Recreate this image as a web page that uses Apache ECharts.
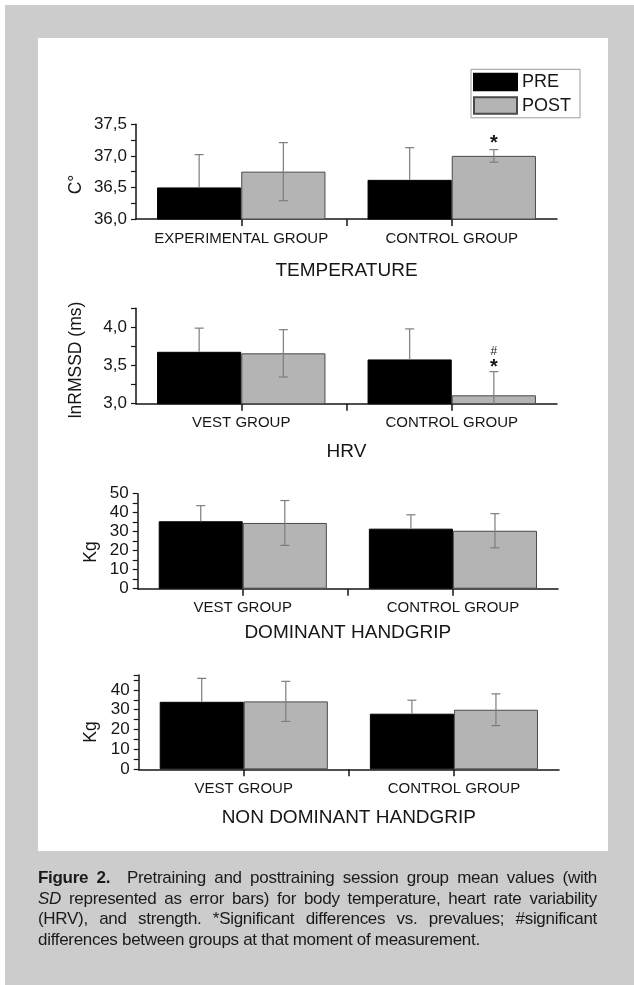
<!DOCTYPE html>
<html><head><meta charset="utf-8">
<script src="https://cdn.jsdelivr.net/npm/echarts@6/dist/echarts.min.js"></script>
<style>
html,body{margin:0;padding:0;background:#fff;width:634px;height:985px;overflow:hidden;}
#bg{position:absolute;left:5px;top:5px;width:629px;height:980px;background:#cccccc;}
#panel{position:absolute;left:38px;top:38px;width:570px;height:813px;background:#fff;}
#chart{position:absolute;left:0;top:0;width:634px;height:985px;}
#cap{position:absolute;left:38px;top:868px;width:559px;font-family:"Liberation Sans",Arial,sans-serif;font-size:17px;letter-spacing:-0.3px;color:#1a1a1a;}
#cap div{height:20.5px;line-height:20.5px;text-align:justify;text-align-last:justify;white-space:nowrap;}
#cap div.last{text-align:left;text-align-last:left;}
</style></head>
<body>
<div id="bg"></div><div id="panel"></div>
<div id="chart"></div>
<div id="cap">
<div><b>Figure 2.</b>&nbsp; Pretraining and posttraining session group mean values (with</div>
<div><i>SD</i> represented as error bars) for body temperature, heart rate variability</div>
<div>(HRV), and strength. *Significant differences vs. prevalues; #significant</div>
<div class="last">differences between groups at that moment of measurement.</div>
</div>
<script>
// ---- data ----
const groupsTemp = ['EXPERIMENTAL GROUP', 'CONTROL GROUP'];
const groupsOther = ['VEST GROUP', 'CONTROL GROUP'];
const seriesNames = ['PRE', 'POST'];
const panelTitles = ['TEMPERATURE', 'HRV', 'DOMINANT HANDGRIP', 'NON DOMINANT HANDGRIP'];
const yTitles = ['C°', 'lnRMSSD (ms)', 'Kg', 'Kg'];

const tempPre = [36.50, 36.62];
const tempPreSD = [0.52, 0.51];
const tempPost = [36.75, 37.00];
const tempPostSD = [0.46, 0.10];
const tempPostMarks = ['', '*'];

const hrvPre = [3.68, 3.58];
const hrvPreSD = [0.31, 0.40];
const hrvPost = [3.66, 3.11];
const hrvPostSD = [0.31, 0.31];
const hrvPostMarks = ['', '*#'];

const domPre = [35.5, 31.6];
const domPreSD = [8.2, 7.3];
const domPost = [34.6, 30.5];
const domPostSD = [11.8, 9.0];
const domPostMarks = ['', ''];

const ndPre = [34.0, 28.0];
const ndPreSD = [11.8, 6.8];
const ndPost = [34.2, 30.0];
const ndPostSD = [10.1, 8.0];
const ndPostMarks = ['', ''];

// axis ranges
const yRanges = [
  {min: 36, max: 37.5, interval: 0.25, labelStep: 0.5, dec: 1},
  {min: 3, max: 4.25, interval: 0.25, labelStep: 0.5, dec: 1},
  {min: 0, max: 50, interval: 5, labelStep: 10, dec: 0},
  {min: 0, max: 47.5, interval: 5, labelStep: 10, dec: 0}
];

// ---- layout ----
const grids = [
  {left: 136, top: 124.3, width: 421, height: 94.7},
  {left: 136, top: 308.3, width: 421, height: 95.4},
  {left: 137.7, top: 493.7, width: 420.3, height: 95},
  {left: 138.7, top: 675, width: 420.3, height: 94.3}
];
const nameGaps = [42, 38.5, 34.5, 38.5];
const yNamePos = [[75.8, 184.5], [76, 360], [91.5, 552], [91.5, 732]];

const FONT = '"Liberation Sans", Arial, sans-serif';
const INK = '#161616';
const ERR = '#7d7d7d';

const panels = [
  {cats: groupsTemp, pre: tempPre, preSD: tempPreSD, post: tempPost, postSD: tempPostSD, marks: tempPostMarks},
  {cats: groupsOther, pre: hrvPre, preSD: hrvPreSD, post: hrvPost, postSD: hrvPostSD, marks: hrvPostMarks},
  {cats: groupsOther, pre: domPre, preSD: domPreSD, post: domPost, postSD: domPostSD, marks: domPostMarks},
  {cats: groupsOther, pre: ndPre, preSD: ndPreSD, post: ndPost, postSD: ndPostSD, marks: ndPostMarks}
];

function makeErr(marks, side, both) {
  return function (params, api) {
    const i = params.dataIndex;
    const cat = api.value(0), mean = api.value(1), sd = api.value(2);
    const band = api.size([1, 0])[0];
    const c = api.coord([cat, mean]);
    const x = c[0] + side * band * 0.2;
    const yTop = api.coord([cat, mean + sd])[1];
    const cs = params.coordSys;
    const gBottom = cs.y + cs.height;
    const yLow = api.coord([cat, mean - sd])[1];
    const yBot = both ? Math.min(yLow, gBottom) : c[1];
    const st = {stroke: ERR, lineWidth: 1.2};
    const ch = [
      {type: 'line', shape: {x1: x, y1: yTop, x2: x, y2: yBot}, style: st},
      {type: 'line', shape: {x1: x - 4.5, y1: yTop, x2: x + 4.5, y2: yTop}, style: st}
    ];
    if (both && yLow < gBottom - 0.5) {
      ch.push({type: 'line', shape: {x1: x - 4.5, y1: yLow, x2: x + 4.5, y2: yLow}, style: st});
    }
    const m = marks ? marks[i] : '';
    const hasHash = m && m.indexOf('#') >= 0;
    if (m && m.indexOf('*') >= 0) {
      ch.push({type: 'text', style: {text: '*', x: x, y: yTop - (hasHash ? 4 : 6), align: 'center', verticalAlign: 'middle',
        font: 'bold 20px ' + FONT, fill: INK}});
    }
    if (hasHash) {
      ch.push({type: 'text', style: {text: '#', x: x, y: yTop - 20, align: 'center', verticalAlign: 'middle',
        font: '12px ' + FONT, fill: INK}});
    }
    return {type: 'group', children: ch};
  };
}

const option = {
  animation: false,
  backgroundColor: 'transparent',
  textStyle: {fontFamily: FONT},
  grid: grids.map(g => Object.assign({containLabel: false, outerBoundsMode: 'none'}, g)),
  legend: {
    data: seriesNames,
    left: 471, top: 69.3,
    orient: 'vertical',
    icon: 'rect',
    itemWidth: 43, itemHeight: 16.5, itemGap: 5,
    padding: [3.5, 9, 3, 2],
    borderColor: '#9a9a9a', borderWidth: 1,
    textStyle: {fontSize: 18, lineHeight: 18, color: INK, fontFamily: FONT}
  },
  xAxis: [],
  yAxis: [],
  series: [],
  graphic: yTitles.map((t, k) => ({
    type: 'text', x: yNamePos[k][0], y: yNamePos[k][1], rotation: Math.PI / 2,
    style: {text: t, align: 'center', verticalAlign: 'middle', font: '17.5px ' + FONT, fill: INK}
  }))
};

panels.forEach((p, k) => {
  const r = yRanges[k];
  const catIdx = option.xAxis.length;
  option.xAxis.push({
    type: 'category', gridIndex: k, data: p.cats, position: 'bottom',
    axisLine: {show: true, onZero: false, lineStyle: {color: INK, width: 1.5}},
    axisTick: {show: true, alignWithLabel: true, length: 7, lineStyle: {color: INK, width: 1.5}},
    axisLabel: {interval: 0, hideOverlap: false, margin: 12, fontSize: 15, color: INK, fontFamily: FONT},
    splitLine: {show: false},
    name: panelTitles[k], nameLocation: 'middle', nameGap: nameGaps[k],
    nameTextStyle: {fontSize: 19, color: INK, fontFamily: FONT}
  });
  option.xAxis.push({
    type: 'value', gridIndex: k, position: 'bottom', min: 0, max: 2, interval: 2,
    axisLine: {show: false}, axisLabel: {show: false}, axisTick: {show: false},
    splitLine: {show: false},
    minorTick: {show: true, splitNumber: 2, length: 7, lineStyle: {color: INK, width: 1.5}},
    minorSplitLine: {show: false}
  });
  option.yAxis.push({
    type: 'value', gridIndex: k, min: r.min, max: r.max, interval: r.interval,
    axisLine: {show: true, lineStyle: {color: INK, width: 1.5}},
    axisTick: {show: true, length: 5, lineStyle: {color: INK, width: 1.2}},
    axisLabel: {
      margin: 9, fontSize: 17, color: INK, fontFamily: FONT, hideOverlap: false,
      formatter: v => {
        const q = v / r.labelStep;
        if (Math.abs(q - Math.round(q)) > 1e-6) return '';
        return v.toFixed(r.dec).replace('.', ',');
      }
    },
    splitLine: {show: false}
  });
  option.series.push({
    name: 'PRE', type: 'bar', xAxisIndex: catIdx, yAxisIndex: k,
    data: p.pre, barGap: '0%', barCategoryGap: '20%', z: 2,
    itemStyle: {color: '#000000', borderColor: '#000000', borderWidth: 1}
  });
  option.series.push({
    name: 'POST', type: 'bar', xAxisIndex: catIdx, yAxisIndex: k,
    data: p.post, barGap: '0%', barCategoryGap: '20%', z: 2,
    itemStyle: {color: '#b4b4b4', borderColor: '#4a4a4a', borderWidth: 1}
  });
  option.series.push({
    type: 'custom', xAxisIndex: catIdx, yAxisIndex: k, z: 5, clip: false,
    data: p.pre.map((v, j) => [j, v, p.preSD[j]]),
    encode: {x: 0, y: 1},
    renderItem: makeErr(null, -1, false)
  });
  option.series.push({
    type: 'custom', xAxisIndex: catIdx, yAxisIndex: k, z: 5, clip: false,
    data: p.post.map((v, j) => [j, v, p.postSD[j]]),
    encode: {x: 0, y: 1},
    renderItem: makeErr(p.marks, 1, true)
  });
});

const chart = echarts.init(document.getElementById('chart'), null, {renderer: 'canvas'});
chart.setOption(option);
</script>
</body></html>
